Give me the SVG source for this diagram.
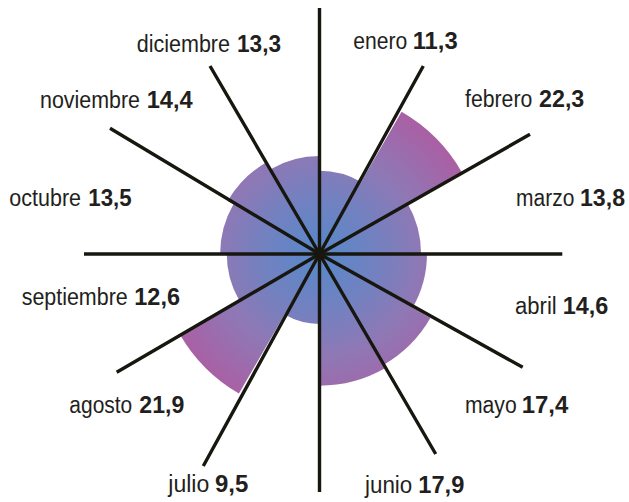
<svg xmlns="http://www.w3.org/2000/svg" width="629" height="502" viewBox="0 0 629 502">
<defs>
<radialGradient id="g" gradientUnits="userSpaceOnUse" cx="319.5" cy="254" r="165">
<stop offset="0" stop-color="#5688ca"/>
<stop offset="0.35" stop-color="#7381c0"/>
<stop offset="0.62" stop-color="#8f78b5"/>
<stop offset="1" stop-color="#aa5fa3"/>
</radialGradient>
<style>
.s{fill:url(#g);stroke:none}
.t{font-family:"Liberation Sans Narrow","Liberation Sans",Arial,sans-serif;font-size:23.5px;fill:#231f20}
.v{font-weight:bold}
.ax{fill:none;stroke:#17160f;stroke-width:3.4;stroke-linecap:butt;stroke-linejoin:miter}
</style>
</defs>
<rect width="629" height="502" fill="#fff"/>
<g id="enero"><path class="s" d="M319.5 254L319.5 170.83A83.17 83.17 0 0 1 361.09 181.97Z"/><text class="t" y="49.3"><tspan x="353.3" textLength="54" lengthAdjust="spacingAndGlyphs">enero</tspan><tspan class="v" x="412.7" textLength="45" lengthAdjust="spacingAndGlyphs">11,3</tspan></text></g>
<g id="febrero"><path class="s" d="M319.5 254L401.57 111.86A164.13 164.13 0 0 1 461.64 171.93Z"/><text class="t" y="107.3"><tspan x="465" textLength="67.3" lengthAdjust="spacingAndGlyphs">febrero</tspan><tspan class="v" x="539" textLength="45.3" lengthAdjust="spacingAndGlyphs">22,3</tspan></text></g>
<g id="marzo"><path class="s" d="M319.5 254L407.46 203.21A101.57 101.57 0 0 1 421.07 254Z"/><text class="t" y="206"><tspan x="516" textLength="58.3" lengthAdjust="spacingAndGlyphs">marzo</tspan><tspan class="v" x="580" textLength="45" lengthAdjust="spacingAndGlyphs">13,8</tspan></text></g>
<g id="abril"><path class="s" d="M319.5 254L426.96 254A107.46 107.46 0 0 1 412.56 307.73Z"/><text class="t" y="314.3"><tspan x="515" textLength="41.7" lengthAdjust="spacingAndGlyphs">abril</tspan><tspan class="v" x="562.7" textLength="45.6" lengthAdjust="spacingAndGlyphs">14,6</tspan></text></g>
<g id="mayo"><path class="s" d="M319.5 254L430.4 318.03A128.06 128.06 0 0 1 383.53 364.9Z"/><text class="t" y="413.3"><tspan x="465" textLength="51.7" lengthAdjust="spacingAndGlyphs">mayo</tspan><tspan class="v" x="521.7" textLength="46.6" lengthAdjust="spacingAndGlyphs">17,4</tspan></text></g>
<g id="junio"><path class="s" d="M319.5 254L385.37 368.09A131.74 131.74 0 0 1 319.5 385.74Z"/><text class="t" y="492.7"><tspan x="365" textLength="47.3" lengthAdjust="spacingAndGlyphs">junio</tspan><tspan class="v" x="418.3" textLength="46" lengthAdjust="spacingAndGlyphs">17,9</tspan></text></g>
<g id="julio"><path class="s" d="M319.5 254L319.5 323.92A69.92 69.92 0 0 1 284.54 314.55Z"/><text class="t" y="491.7"><tspan x="168.3" textLength="41" lengthAdjust="spacingAndGlyphs">julio</tspan><tspan class="v" x="215" textLength="33.3" lengthAdjust="spacingAndGlyphs">9,5</tspan></text></g>
<g id="agosto"><path class="s" d="M319.5 254L238.91 393.59A161.18 161.18 0 0 1 179.91 334.59Z"/><text class="t" y="412.7"><tspan x="69.3" textLength="63" lengthAdjust="spacingAndGlyphs">agosto</tspan><tspan class="v" x="139.3" textLength="45" lengthAdjust="spacingAndGlyphs">21,9</tspan></text></g>
<g id="septiembre"><path class="s" d="M319.5 254L239.19 300.37A92.74 92.74 0 0 1 226.76 254Z"/><text class="t" y="305"><tspan x="21.7" textLength="106" lengthAdjust="spacingAndGlyphs">septiembre</tspan><tspan class="v" x="134.3" textLength="45.7" lengthAdjust="spacingAndGlyphs">12,6</tspan></text></g>
<g id="octubre"><path class="s" d="M319.5 254L220.14 254A99.36 99.36 0 0 1 233.45 204.32Z"/><text class="t" y="206"><tspan x="9.3" textLength="71.7" lengthAdjust="spacingAndGlyphs">octubre</tspan><tspan class="v" x="88.3" textLength="43.4" lengthAdjust="spacingAndGlyphs">13,5</tspan></text></g>
<g id="noviembre"><path class="s" d="M319.5 254L227.72 201.01A105.98 105.98 0 0 1 266.51 162.22Z"/><text class="t" y="108.3"><tspan x="40" textLength="100" lengthAdjust="spacingAndGlyphs">noviembre</tspan><tspan class="v" x="146.7" textLength="46" lengthAdjust="spacingAndGlyphs">14,4</tspan></text></g>
<g id="diciembre"><path class="s" d="M319.5 254L270.55 169.23A97.89 97.89 0 0 1 319.5 156.11Z"/><text class="t" y="51.7"><tspan x="136.7" textLength="93.3" lengthAdjust="spacingAndGlyphs">diciembre</tspan><tspan class="v" x="237" textLength="44" lengthAdjust="spacingAndGlyphs">13,3</tspan></text></g>
<g id="connectors">
<path class="ax" d="M319.5 8L319.5 492"/>
<path class="ax" d="M84 254L562.3 254"/>
<path class="ax" d="M423.3 66L319.5 254L203.3 466"/>
<path class="ax" d="M530 134.3L319.5 254L116.7 372.3"/>
<path class="ax" d="M522.7 367.3L319.5 254L110 128.3"/>
<path class="ax" d="M435.7 454L319.5 254L210 66"/>
</g>
</svg>
